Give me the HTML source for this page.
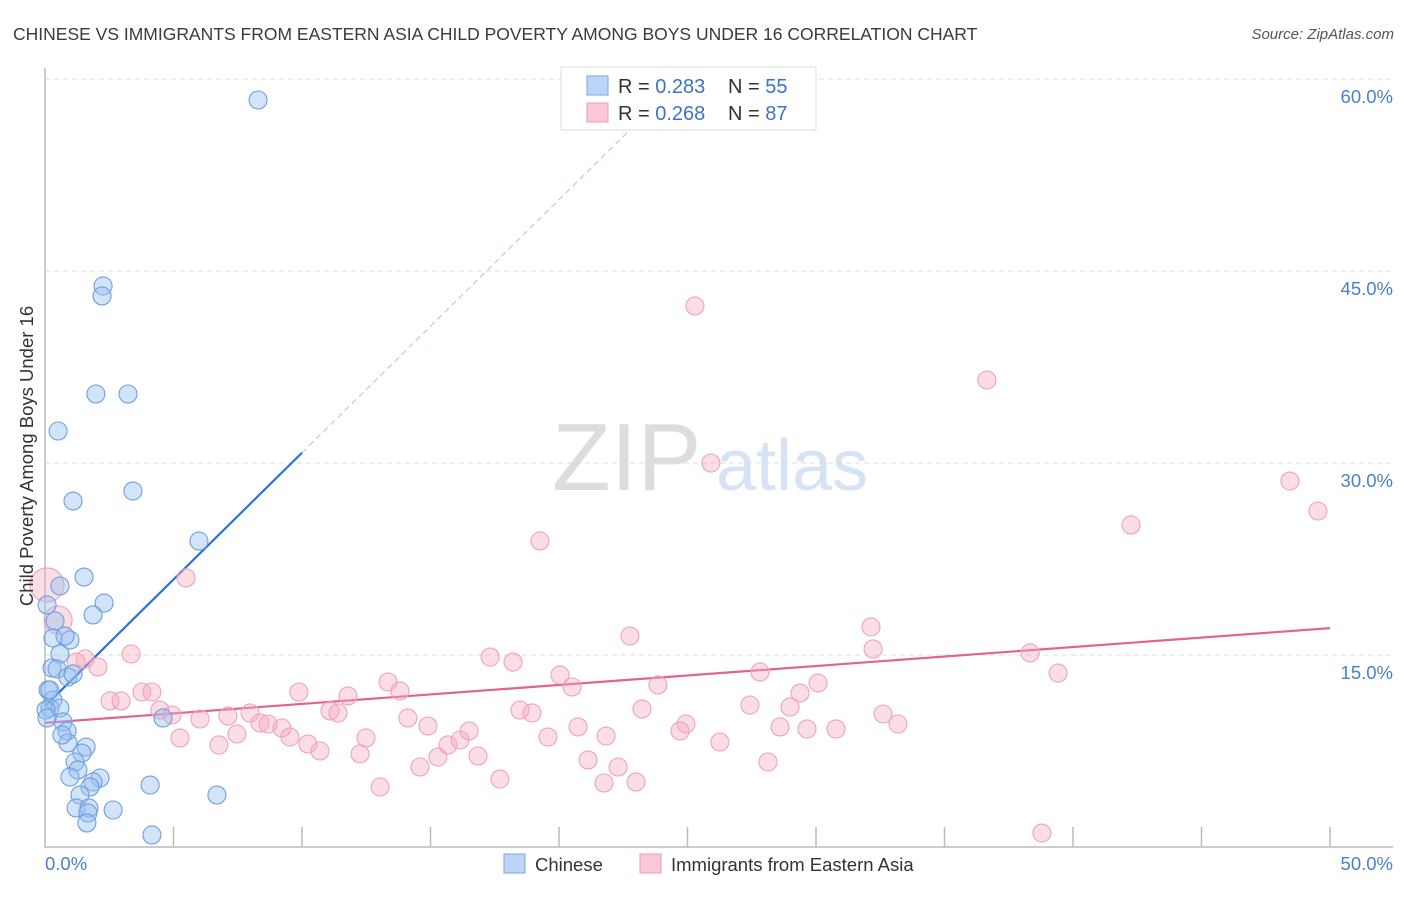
<!DOCTYPE html>
<html><head><meta charset="utf-8"><style>
body{margin:0;background:#fff;font-family:"Liberation Sans",sans-serif}
svg text{font-family:"Liberation Sans",sans-serif}
</style></head><body>
<svg id="chart" width="1406" height="892" viewBox="0 0 1406 892" xmlns="http://www.w3.org/2000/svg">
<text x="13" y="40" font-size="17.5" fill="#3a3a3a">CHINESE VS IMMIGRANTS FROM EASTERN ASIA CHILD POVERTY AMONG BOYS UNDER 16 CORRELATION CHART</text>
<text x="1394" y="39" font-size="15" fill="#555" font-style="italic" text-anchor="end">Source: ZipAtlas.com</text>
<g>
<text x="552" y="490" font-size="96" fill="#ddd" font-family="Liberation Serif,serif">ZIP</text>
<text x="716" y="490" font-size="72" fill="#d5e3f5">atlas</text>
</g>
<g id="grid"></g>
<g id="axes"></g>
<g id="lines"></g>
<g id="pts"></g>
<text transform="translate(33,456) rotate(-90)" font-size="18.5" fill="#333" text-anchor="middle">Child Poverty Among Boys Under 16</text>
<g>
<rect x="561" y="67" width="255" height="63" fill="#fff" stroke="#ddd"/>
<rect x="587" y="76" width="21" height="19" fill="#bcd4f6" stroke="#7aa7e0"/>
<rect x="587" y="103" width="21" height="19" fill="#fac8d6" stroke="#ee9ab2"/>
<text x="618" y="93" font-size="20" fill="#333">R = <tspan fill="#3a73c8">0.283</tspan></text>
<text x="728" y="93" font-size="20" fill="#333">N = <tspan fill="#3a73c8">55</tspan></text>
<text x="618" y="120" font-size="20" fill="#333">R = <tspan fill="#3a73c8">0.268</tspan></text>
<text x="728" y="120" font-size="20" fill="#333">N = <tspan fill="#3a73c8">87</tspan></text>
</g>
<g>
<rect x="504" y="854" width="21" height="19" fill="#bcd4f6" stroke="#7aa7e0"/>
<text x="535" y="871" font-size="18.5" fill="#333">Chinese</text>
<rect x="640" y="854" width="21" height="19" fill="#fac8d6" stroke="#ee9ab2"/>
<text x="671" y="871" font-size="18.5" fill="#333">Immigrants from Eastern Asia</text>
</g>
</svg>
<script>
const yTicks=[15,30,45,60];
const yTickLabels=["15.0%","30.0%","45.0%","60.0%"];
const xTicks=[0,5,10,15,20,25,30,35,40,45,50];
const xEndLabels=["0.0%","50.0%"];
const blueX=[8.29,2.26,2.22,1.98,3.23,0.51,1.09,3.42,5.99,1.52,0.58,2.30,1.87,0.08,0.39,0.31,0.97,0.78,0.58,0.27,0.47,0.89,1.09,0.12,0.31,0.19,0.58,0.70,0.86,0.89,0.66,1.60,1.44,1.17,1.28,0.97,2.14,1.87,1.75,1.36,2.65,1.21,1.71,1.67,1.63,4.59,4.09,6.69,4.16,0.04,0.08,0.19];
const blueY=[58.36,43.83,43.05,35.39,35.39,32.5,27.03,27.81,23.9,21.09,20.39,19.06,18.13,18.91,17.66,16.33,16.17,16.48,15.08,13.98,13.91,13.28,13.52,12.27,11.48,10.86,10.86,9.77,9.06,8.13,8.75,7.81,7.34,6.64,6.02,5.47,5.39,5.08,4.69,4.06,2.89,3.05,3.05,2.66,1.88,10.08,4.84,4.06,0.94,10.7,10.08,12.27];
const pinkX=[0.08,0.51,5.49,25.29,36.65,25.91,48.44,49.53,42.26,19.26,22.76,32.14,32.22,38.33,39.42,17.32,18.21,20.04,20.51,27.82,23.85,13.35,13.81,9.88,11.79,3.35,2.06,1.56,1.21,3.77,4.16,2.53,2.96,4.47,4.94,6.03,7.12,7.98,8.37,8.68,9.22,9.53,10.23,10.7,11.09,11.4,5.25,6.77,7.47,12.49,12.26,14.12,14.9,14.59,13.04,15.29,15.68,16.15,16.5,16.85,17.7,18.48,18.95,19.57,20.74,21.13,21.83,22.3,21.75,23.0,23.23,24.94,24.71,26.26,27.43,28.13,28.6,28.99,29.38,29.65,30.08,30.78,32.61,33.19,38.79];
const pinkY=[20.47,17.73,21.02,42.27,36.48,30.0,28.59,26.25,25.16,23.91,16.48,17.19,15.47,15.16,13.59,14.84,14.45,13.44,12.5,13.67,12.66,12.89,12.19,12.11,11.8,15.08,14.06,14.69,14.45,12.11,12.11,11.41,11.41,10.7,10.31,10.0,10.23,10.47,9.69,9.61,9.3,8.59,8.05,7.5,10.63,10.47,8.52,7.97,8.83,8.52,7.27,10.08,9.45,6.25,4.69,7.03,7.97,8.36,9.06,7.11,5.31,10.7,10.47,8.59,9.38,6.8,8.67,6.25,5.0,5.08,10.78,9.61,9.06,8.2,11.09,6.64,9.38,10.94,12.03,9.22,12.81,9.22,10.39,9.61,1.09];
const pinkR=[17,14];
const blueTrend=[11.0,30.8,56.8];
const blueTrendX=[0,10,23.15];
const pinkTrend=[9.7,17.1];
const pinkTrendX=[0,50];

const X=v=>45+v*25.7, Y=v=>847-v*12.8;
const NS="http://www.w3.org/2000/svg";
function mk(t,a,p){const e=document.createElementNS(NS,t);for(const k in a)e.setAttribute(k,a[k]);p.appendChild(e);return e;}
const grid=document.getElementById('grid'),axes=document.getElementById('axes'),lines=document.getElementById('lines'),pts=document.getElementById('pts');
yTicks.forEach((t,i)=>{
 const l=mk('line',{x1:45,x2:1393,y1:Y(t),y2:Y(t),stroke:'#ddd','stroke-dasharray':'5,4'},grid);
 
 
 const tx=mk('text',{x:1393,y:Y(t)+24,'font-size':18.5,fill:'#4a7fd0','text-anchor':'end'},grid);
 tx.textContent=yTickLabels[i];
 
 
});
const ax=mk('path',{d:'M45 68V847H1393',fill:'none',stroke:'#bbb','stroke-width':1.5},axes);


xTicks.forEach(t=>{if(t===0)return;
 const l=mk('line',{x1:X(t),x2:X(t),y1:827,y2:847,stroke:'#bbb','stroke-width':1.5},axes);
 
 
});
[[0,'start',45],[50,'end',1393]].forEach((d,i)=>{
 const tx=mk('text',{x:d[2],y:870,'font-size':18.5,fill:'#4a7fd0','text-anchor':d[1]},axes);
 tx.textContent=xEndLabels[i];
 
 
});
const bt=mk('line',{x1:X(blueTrendX[0]),y1:Y(blueTrend[0]),x2:X(blueTrendX[1]),y2:Y(blueTrend[1]),stroke:'#2a72d8','stroke-width':2.2},lines);


const bd=mk('line',{x1:X(blueTrendX[1]),y1:Y(blueTrend[1]),x2:X(blueTrendX[2]),y2:Y(blueTrend[2]),stroke:'#a9c3e6','stroke-width':1,'stroke-dasharray':'6,4'},lines);


const pt=mk('line',{x1:X(pinkTrendX[0]),y1:Y(pinkTrend[0]),x2:X(pinkTrendX[1]),y2:Y(pinkTrend[1]),stroke:'#e4638e','stroke-width':2.2},lines);


pinkX.forEach((v,i)=>{
 const c=mk('circle',{cx:X(v),cy:Y(pinkY[i]),r:pinkR[i]||9,fill:'rgba(246,170,192,0.4)',stroke:'#eea3b9','stroke-width':1.1},pts);
 
 
});
blueX.forEach((v,i)=>{
 const c=mk('circle',{cx:X(v),cy:Y(blueY[i]),r:9,fill:'rgba(150,190,240,0.42)',stroke:'#6e9edf','stroke-width':1.1},pts);
 
 
});
</script>
</body></html>
